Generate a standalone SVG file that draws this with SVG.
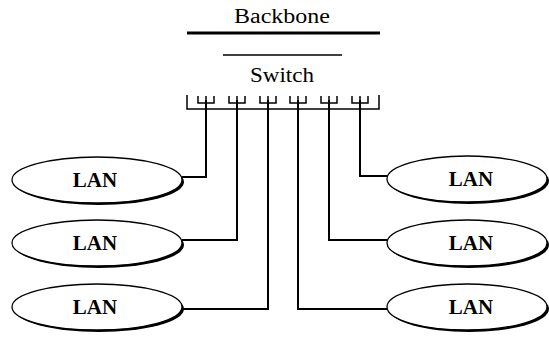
<svg xmlns="http://www.w3.org/2000/svg" width="549" height="338" viewBox="0 0 549 338">
<style>
text{font-family:"Liberation Serif","DejaVu Serif","Times New Roman",serif;fill:#000}
.lan{font-weight:bold;font-size:21px;text-anchor:middle}
.e{fill:#fff;stroke:#000;stroke-width:1.3}
.sh{fill:#000}
.c{fill:none;stroke:#000;stroke-width:2}
.p{fill:none;stroke:#000;stroke-width:1.5}
</style>
<defs>
<g id="port"><path class="p" d="M-8,96 V103 H8 V96 M0,96 V103"/></g>
</defs>
<g id="backbone">
<text x="234" y="23" font-size="20" textLength="96" lengthAdjust="spacingAndGlyphs">Backbone</text>
<line x1="187" y1="33" x2="380" y2="33" stroke="#000" stroke-width="3"/>
</g>
<g id="switch">
<line x1="223" y1="55" x2="342" y2="55" stroke="#000" stroke-width="1.3"/>
<text x="250" y="82" font-size="21" textLength="64" lengthAdjust="spacingAndGlyphs">Switch</text>
<path class="p" d="M187,95 V109 H379 V95"/>
<use href="#port" x="206"/>
<use href="#port" x="237"/>
<use href="#port" x="268"/>
<use href="#port" x="298"/>
<use href="#port" x="329"/>
<use href="#port" x="360"/>
</g>
<g id="connectors">
<path class="c" d="M206,100 V177 H182"/>
<path class="c" d="M237,100 V240 H182"/>
<path class="c" d="M268,100 V309 H182"/>
<path class="c" d="M298,100 V309 H388"/>
<path class="c" d="M329,100 V240 H388"/>
<path class="c" d="M360,100 V176 H388"/>
</g>
<g id="lan-l1"><ellipse class="sh" cx="99" cy="182" rx="85" ry="23"/><ellipse class="e" cx="97" cy="180" rx="85" ry="23"/><text class="lan" x="95" y="187">LAN</text></g>
<g id="lan-l2"><ellipse class="sh" cx="99" cy="245" rx="85" ry="23"/><ellipse class="e" cx="97" cy="243" rx="85" ry="23"/><text class="lan" x="95" y="250">LAN</text></g>
<g id="lan-l3"><ellipse class="sh" cx="99" cy="309" rx="85" ry="23"/><ellipse class="e" cx="97" cy="307" rx="85" ry="23"/><text class="lan" x="95" y="314">LAN</text></g>
<g id="lan-r1"><ellipse class="sh" cx="469" cy="181" rx="80" ry="23"/><ellipse class="e" cx="467" cy="179" rx="80" ry="23"/><text class="lan" x="471" y="186">LAN</text></g>
<g id="lan-r2"><ellipse class="sh" cx="469" cy="245" rx="80" ry="23"/><ellipse class="e" cx="467" cy="243" rx="80" ry="23"/><text class="lan" x="471" y="250">LAN</text></g>
<g id="lan-r3"><ellipse class="sh" cx="469" cy="309" rx="80" ry="23"/><ellipse class="e" cx="467" cy="307" rx="80" ry="23"/><text class="lan" x="471" y="314">LAN</text></g>
</svg>
